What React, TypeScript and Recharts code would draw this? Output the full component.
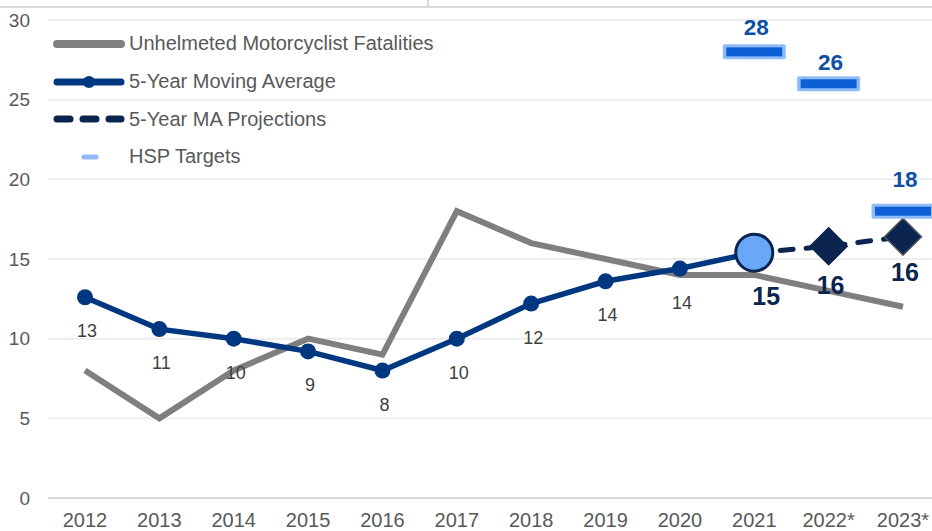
import { ComposedChart, Line, XAxis, YAxis, CartesianGrid, Legend, LabelList } from 'recharts';

// ----------------------------------------------------------------------

const years = ['2012', '2013', '2014', '2015', '2016', '2017', '2018', '2019', '2020', '2021', '2022*', '2023*'];
const fatalities = [8, 5, 8, 10, 9, 18, 16, 15, 14, 14, 13, 12];
const movingAvg = [12.6, 10.6, 10.0, 9.2, 8.0, 10.0, 12.2, 13.6, 14.4, 15.4, null, null];
const projections = [null, null, null, null, null, null, null, null, null, 15.4, 15.8, 16.4];
const targets = [null, null, null, null, null, null, null, null, null, 28, 26, 18];
const yTicks = [0, 5, 10, 15, 20, 25, 30];

const FONT = '"Liberation Sans", Arial, sans-serif';
const GRAY = '#7f7f7f';
const NAVY = '#003781';
const DARK = '#0b2550';
const TARGET_BLUE = '#0d5fd6';
const TARGET_LIGHT = '#8fbcf7';

const data = years.map((year, i) => ({
  year,
  fatal: fatalities[i],
  ma: movingAvg[i],
  proj: projections[i],
  target: targets[i],
}));

const lastMaIndex = 9;

const maDot = (props: any) => {
  const { cx, cy, index } = props;
  if (cx == null || cy == null) return <g key={`ma-${index}`} />;
  if (index === lastMaIndex) {
    return <circle key={`ma-${index}`} cx={cx} cy={cy} r={18.5} fill='#69a8f7' stroke={DARK} strokeWidth={3} />;
  }
  return <circle key={`ma-${index}`} cx={cx} cy={cy} r={8} fill={NAVY} />;
};

const projDot = (props: any) => {
  const { cx, cy, index } = props;
  if (cx == null || cy == null || index === lastMaIndex) return <g key={`pj-${index}`} />;
  const s = 18.5;
  return (
    <path
      key={`pj-${index}`}
      d={`M${cx},${cy - s} L${cx + s},${cy} L${cx},${cy + s} L${cx - s},${cy} Z`}
      fill={DARK}
      stroke={index === 11 ? '#555' : DARK}
      strokeWidth={1.5}
    />
  );
};

const targetDot = (props: any) => {
  const { cx, cy, index } = props;
  if (cx == null || cy == null) return <g key={`tg-${index}`} />;
  return (
    <g key={`tg-${index}`}>
      <rect x={cx - 31.5} y={cy - 7.5} width={63} height={15} rx={2} fill={TARGET_LIGHT} />
      <rect x={cx - 28} y={cy - 4.5} width={56} height={9} fill={TARGET_BLUE} />
    </g>
  );
};

const maLabel = (props: any) => {
  const { x, y, value, index } = props;
  if (value == null) return null;
  if (index === lastMaIndex) {
    return (
      <text x={x + 12} y={y + 52} textAnchor='middle' fontSize={25} fontWeight='bold' fill={DARK} fontFamily={FONT}>
        {Math.round(value)}
      </text>
    );
  }
  return (
    <text x={x + 2} y={y + 40} textAnchor='middle' fontSize={18} fill='#404040' fontFamily={FONT}>
      {Math.round(value)}
    </text>
  );
};

const projLabel = (props: any) => {
  const { x, y, value, index } = props;
  if (value == null || index === lastMaIndex) return null;
  return (
    <text x={x + 2} y={y + (index === 11 ? 44 : 48)} textAnchor='middle' fontSize={25} fontWeight='bold' fill={DARK} fontFamily={FONT}>
      {Math.round(value)}
    </text>
  );
};

const targetLabel = (props: any) => {
  const { x, y, value, index } = props;
  if (value == null) return null;
  const dy = index === 11 ? -24 : index === 10 ? -14 : -17;
  return (
    <text x={x + 2} y={y + dy} textAnchor='middle' fontSize={22.5} fontWeight='bold' fill='#0d4ea6' fontFamily={FONT}>
      {value}
    </text>
  );
};

const legendRows = [
  { label: 'Unhelmeted Motorcyclist Fatalities', kind: 'gray' },
  { label: '5-Year Moving Average', kind: 'ma' },
  { label: '5-Year MA Projections', kind: 'proj' },
  { label: 'HSP Targets', kind: 'target' },
];

const legendIcon = (kind: string) => {
  switch (kind) {
    case 'gray':
      return <line x1={4} y1={10} x2={68} y2={10} stroke={GRAY} strokeWidth={8} strokeLinecap='round' />;
    case 'ma':
      return (
        <g>
          <line x1={4} y1={10} x2={68} y2={10} stroke={NAVY} strokeWidth={7} strokeLinecap='round' />
          <circle cx={36} cy={10} r={6} fill={NAVY} />
        </g>
      );
    case 'proj':
      return (
        <line x1={4} y1={10} x2={68} y2={10} stroke={DARK} strokeWidth={7} strokeLinecap='round' strokeDasharray='13 13' />
      );
    default:
      return <line x1={31} y1={10} x2={43} y2={10} stroke={TARGET_LIGHT} strokeWidth={5} strokeLinecap='round' />;
  }
};

const renderLegend = () => (
  <div style={{ fontFamily: FONT }}>
    {legendRows.map(row => (
      <div key={row.label} style={{ display: 'flex', alignItems: 'center', height: 37.7 }}>
        <svg width={74} height={20} style={{ marginRight: 2 }}>
          {legendIcon(row.kind)}
        </svg>
        <span style={{ fontSize: 20, color: '#595959', whiteSpace: 'nowrap' }}>{row.label}</span>
      </div>
    ))}
  </div>
);

export default function App() {
  return (
    <div style={{ position: 'absolute', left: 0, top: 0, width: 932, height: 531, overflow: 'hidden', background: '#fff' }}>
      <div style={{ position: 'absolute', left: 0, top: 6, width: 932, height: 2, background: '#d9d9d9' }} />
      <div style={{ position: 'absolute', left: 427, top: 0, width: 2, height: 7, background: '#d9d9d9' }} />
      <ComposedChart width={942} height={531} data={data} margin={{ top: 20, right: 2, bottom: 0, left: 0 }}>
        <CartesianGrid vertical={false} stroke='#ededed' strokeWidth={2} />
        <XAxis
          dataKey='year'
          height={33}
          padding={{ left: 37, right: 37 }}
          tickLine={false}
          axisLine={{ stroke: '#d9d9d9', strokeWidth: 2 }}
          tick={{ fontSize: 20, fill: '#595959', fontFamily: FONT }}
          tickMargin={9}
          interval={0}
        />
        <YAxis
          width={48}
          domain={[0, 30]}
          ticks={yTicks}
          axisLine={false}
          tickLine={false}
          tickMargin={12}
          tick={{ fontSize: 19, fill: '#595959', fontFamily: FONT }}
        />
        <Legend
          content={renderLegend}
          layout='vertical'
          align='center'
          verticalAlign='middle'
          wrapperStyle={{ top: 25, left: 53, width: 440 }}
        />
        <Line
          dataKey='fatal'
          stroke={GRAY}
          strokeWidth={6}
          dot={false}
          activeDot={false}
          isAnimationActive={false}
          legendType='none'
        />
        <Line
          dataKey='proj'
          stroke={DARK}
          strokeWidth={5}
          strokeDasharray='13 13'
          strokeLinecap='round'
          dot={projDot}
          activeDot={false}
          isAnimationActive={false}
        >
          <LabelList dataKey='proj' content={projLabel} />
        </Line>
        <Line
          dataKey='ma'
          stroke={NAVY}
          strokeWidth={5.5}
          dot={maDot}
          activeDot={false}
          isAnimationActive={false}
        >
          <LabelList dataKey='ma' content={maLabel} />
        </Line>
        <Line
          dataKey='target'
          stroke='none'
          dot={targetDot}
          activeDot={false}
          isAnimationActive={false}
        >
          <LabelList dataKey='target' content={targetLabel} />
        </Line>
      </ComposedChart>
    </div>
  );
}
